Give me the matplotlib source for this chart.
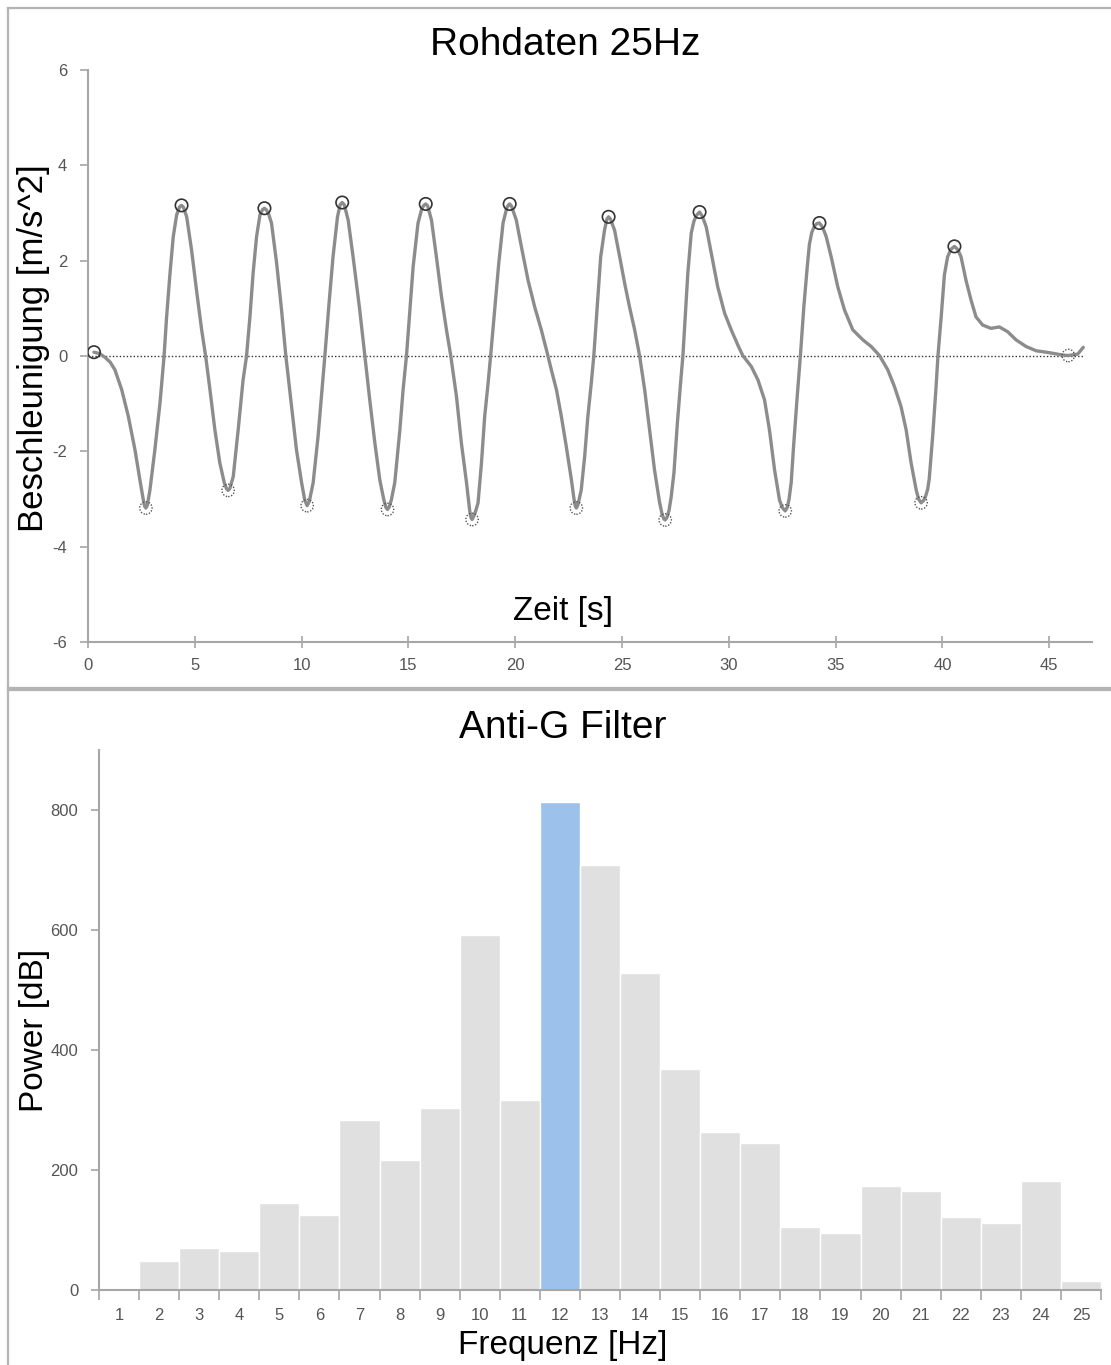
import matplotlib.pyplot as plt
from matplotlib.lines import Line2D
import numpy as np

plt.rcParams['font.family'] = ['Liberation Sans', 'DejaVu Sans']
plt.rcParams['axes.unicode_minus'] = False

# Raw acceleration trace (25 Hz), one row per oscillation
time_s = [0.28, 0.55, 0.80, 1.04, 1.26, 1.58, 1.89, 2.20, 2.43, 2.59, 2.65, 2.71, 2.78, 2.90, 3.13, 3.37, 3.56, 3.68, 3.84, 3.99, 4.15, 4.29, 4.38, 4.47,
          4.62, 4.85, 5.08, 5.32, 5.51, 5.71, 5.94, 6.17, 6.38, 6.49, 6.56, 6.64, 6.80, 7.03, 7.26, 7.42, 7.58, 7.73, 7.89, 8.05, 8.17, 8.26, 8.36, 8.47,
          8.59, 8.83, 9.06, 9.26, 9.53, 9.76, 10.00, 10.15, 10.26, 10.36, 10.54, 10.77, 10.93, 11.09, 11.27, 11.47, 11.68, 11.80, 11.90, 12.00,
          12.18, 12.41, 12.72, 12.96, 13.19, 13.43, 13.66, 13.85, 13.95, 14.02, 14.10, 14.20, 14.36, 14.60, 14.75, 14.91, 15.06, 15.22, 15.45, 15.62, 15.72, 15.81, 15.90,
          16.08, 16.31, 16.55, 16.78, 16.98, 17.25, 17.48, 17.72, 17.87, 17.93, 17.98, 18.05, 18.15, 18.26, 18.42, 18.57, 18.73, 18.85, 19.04, 19.23, 19.43, 19.60, 19.67, 19.74, 19.83,
          20.05, 20.29, 20.60, 20.91, 21.22, 21.46, 21.69, 21.93, 22.16, 22.39, 22.63, 22.75, 22.81, 22.86, 22.93, 23.09, 23.25, 23.40, 23.56, 23.68, 23.84, 24.00, 24.18, 24.29, 24.37, 24.46,
          24.65, 24.89, 25.12, 25.35, 25.59, 25.82, 26.06, 26.29, 26.52, 26.76, 26.88, 26.96, 27.02, 27.10, 27.20, 27.30, 27.43, 27.59, 27.74, 27.85, 27.96, 28.08, 28.24, 28.36, 28.48, 28.63, 28.76,
          28.94, 29.18, 29.48, 29.80, 30.11, 30.42, 30.65, 31.05, 31.36, 31.67, 31.90, 32.14, 32.37, 32.50, 32.64, 32.74, 32.82, 32.92, 33.04, 33.20, 33.35, 33.51, 33.67, 33.77, 33.88, 34.00, 34.12, 34.24, 34.36, 34.46,
          34.56, 34.79, 35.10, 35.41, 35.80, 36.27, 36.66, 37.05, 37.44, 37.75, 38.06, 38.30, 38.53, 38.77, 38.88, 39.00, 39.12, 39.22, 39.31, 39.38, 39.54, 39.70, 39.79, 39.94, 40.09, 40.24, 40.40, 40.56,
          40.72, 40.87, 41.10, 41.34, 41.57, 41.88, 42.27, 42.66, 43.05, 43.44, 43.91, 44.38, 45.00, 45.62, 45.89, 46.33, 46.59]
accel = [0.08, 0.05, -0.03, -0.13, -0.29, -0.71, -1.27, -1.97, -2.60, -3.02, -3.15, -3.19, -3.13, -2.81, -1.97, -0.99, -0.01, 0.82, 1.74, 2.50, 2.96, 3.13, 3.16, 3.12,
         2.92, 2.22, 1.38, 0.55, -0.01, -0.71, -1.55, -2.24, -2.66, -2.79, -2.82, -2.78, -2.53, -1.55, -0.50, -0.01, 0.82, 1.74, 2.50, 2.96, 3.07, 3.10, 3.06, 2.96,
         2.79, 1.95, 0.97, 0.01, -1.06, -1.97, -2.66, -3.03, -3.14, -3.05, -2.66, -1.69, -0.85, 0.01, 1.03, 2.08, 2.92, 3.17, 3.22, 3.17,
         2.85, 2.08, 0.97, 0.01, -0.92, -1.83, -2.60, -3.02, -3.18, -3.22, -3.17, -3.02, -2.66, -1.55, -0.71, 0.01, 0.90, 1.87, 2.79, 3.08, 3.16, 3.19, 3.15,
         2.85, 2.08, 1.24, 0.55, 0.01, -0.85, -1.83, -2.66, -3.25, -3.39, -3.43, -3.37, -3.25, -3.08, -2.24, -1.27, -0.57, 0.01, 0.97, 1.95, 2.79, 3.10, 3.16, 3.19, 3.14,
         2.85, 2.29, 1.59, 1.03, 0.55, 0.13, -0.29, -0.71, -1.27, -1.90, -2.60, -3.00, -3.14, -3.19, -3.13, -2.81, -2.11, -1.27, -0.57, 0.01, 1.03, 2.08, 2.64, 2.87, 2.92, 2.87,
         2.64, 2.08, 1.53, 1.03, 0.55, 0.01, -0.71, -1.55, -2.39, -3.08, -3.33, -3.42, -3.44, -3.39, -3.24, -2.96, -2.45, -1.41, -0.57, 0.01, 0.82, 1.74, 2.58, 2.82, 2.95, 3.02, 2.93,
         2.71, 2.15, 1.45, 0.90, 0.55, 0.23, 0.01, -0.22, -0.50, -0.92, -1.55, -2.39, -3.02, -3.18, -3.25, -3.17, -3.00, -2.65, -1.83, -0.85, 0.01, 1.03, 1.87, 2.34, 2.59, 2.72, 2.78, 2.79, 2.72, 2.62,
         2.50, 2.08, 1.45, 0.97, 0.55, 0.34, 0.20, 0.01, -0.29, -0.64, -1.06, -1.55, -2.24, -2.81, -3.00, -3.08, -3.03, -2.93, -2.79, -2.58, -1.69, -0.65, 0.01, 0.82, 1.70, 2.08, 2.24, 2.30,
         2.23, 2.08, 1.59, 1.17, 0.82, 0.65, 0.58, 0.61, 0.51, 0.34, 0.20, 0.11, 0.07, 0.02, 0.01, 0.04, 0.18]

# Detected extrema
peak_t = [0.28, 4.38, 8.26, 11.90, 15.81, 19.74, 24.37, 28.63, 34.24, 40.56]
peak_a = [0.08, 3.16, 3.10, 3.22, 3.19, 3.19, 2.92, 3.02, 2.79, 2.30]
trough_t = [2.71, 6.56, 10.26, 14.02, 17.98, 22.86, 27.02, 32.64, 39.00, 45.89]
trough_a = [-3.19, -2.82, -3.14, -3.22, -3.43, -3.19, -3.44, -3.25, -3.08, 0.01]

# Power spectrum
freq_hz = list(range(1, 26))
power_db = [0, 48, 70, 65, 145, 125, 284, 217, 304, 591, 316, 813, 708, 528, 369,
            264, 245, 105, 95, 174, 165, 122, 112, 182, 15]
peak_freq = 12

axis_grey = '#a6a6a6'
tick_txt = '#555555'

fig = plt.figure(figsize=(11.11, 13.65), dpi=100)

# panel frames
frame_kw = dict(color='#b4b4b4', lw=1.6, transform=fig.transFigure)
fig.add_artist(Line2D([0.0072, 1.0], [0.9941, 0.9941], **frame_kw))
fig.add_artist(Line2D([0.0072, 0.0072], [0.0, 0.9941], **frame_kw))
fig.add_artist(Line2D([0.0072, 1.0], [0.4960, 0.4960], **frame_kw))
fig.add_artist(Line2D([0.0072, 1.0], [0.4942, 0.4942], **frame_kw))


def style_axes(ax):
    for side in ('top', 'right'):
        ax.spines[side].set_visible(False)
    for side in ('left', 'bottom'):
        ax.spines[side].set_color(axis_grey)
        ax.spines[side].set_linewidth(1.5)
    ax.tick_params(colors=axis_grey, labelcolor=tick_txt, labelsize=12, width=1.2)


# ---- top: raw data ----
ax1 = fig.add_axes([0.0792, 0.5297, 0.9037, 0.4190])
style_axes(ax1)
ax1.hlines(0, 0, time_s[-1], colors='#333333', linestyles=(0, (1, 1.5)), lw=1.0, zorder=1)
ax1.plot(time_s, accel, color='#8c8c8c', lw=2.4, solid_capstyle='round', zorder=2)
ax1.scatter(peak_t, peak_a, s=80, facecolors='none', edgecolors='#333333', linewidths=1.2, zorder=3)
ax1.scatter(trough_t, trough_a, s=80, facecolors='none', edgecolors='#555555', linewidths=1.0,
            linestyles=(0, (1, 1.2)), zorder=3)
ax1.set_xlim(0, 47)
ax1.set_ylim(-6, 6)
ax1.set_xticks(np.arange(0, 46, 5))
ax1.set_yticks(np.arange(-6, 7, 2))
ax1.tick_params(axis='x', direction='inout', length=9, pad=7)
ax1.tick_params(axis='y', direction='out', length=6, pad=9)
ax1.set_xlabel('Zeit [s]', fontsize=24)
ax1.xaxis.set_label_coords(0.473, 0.054)
ax1.xaxis.label.set_va('center')
ax1.set_ylabel('Beschleunigung [m/s^2]', fontsize=25)
ax1.yaxis.set_label_coords(-0.0538, 0.514)
ax1.yaxis.label.set_va('center')
ax1.text(0.475, 1.0437, 'Rohdaten 25Hz', transform=ax1.transAxes, fontsize=28,
         ha='center', va='center')

# ---- bottom: spectrum ----
ax2 = fig.add_axes([0.0891, 0.0549, 0.9019, 0.3956])
style_axes(ax2)
bar_colors = ['#9cc2ec' if f == peak_freq else '#e0e0e0' for f in freq_hz]
ax2.bar(freq_hz, power_db, width=1.0, color=bar_colors, edgecolor='white', linewidth=1.0)
ax2.set_xlim(0.5, 25.5)
ax2.set_ylim(0, 900)
ax2.set_yticks(np.arange(0, 801, 200))
ax2.set_xticks(np.arange(0.5, 26, 1))
ax2.set_xticklabels([])
ax2.set_xticks(freq_hz, minor=True)
ax2.set_xticklabels([str(f) for f in freq_hz], minor=True)
ax2.tick_params(axis='x', which='major', direction='out', length=7)
ax2.tick_params(axis='x', which='minor', length=0, pad=13, labelsize=12, labelcolor=tick_txt)
ax2.tick_params(axis='y', direction='out', length=6, pad=9)
ax2.set_xlabel('Frequenz [Hz]', fontsize=24)
ax2.xaxis.set_label_coords(0.463, -0.102)
ax2.xaxis.label.set_va('center')
ax2.set_ylabel('Power [dB]', fontsize=24)
ax2.yaxis.set_label_coords(-0.0639, 0.481)
ax2.yaxis.label.set_va('center')
ax2.text(0.463, 1.0407, 'Anti-G Filter', transform=ax2.transAxes, fontsize=28,
         ha='center', va='center')

fig.savefig('out.png', dpi=100)
